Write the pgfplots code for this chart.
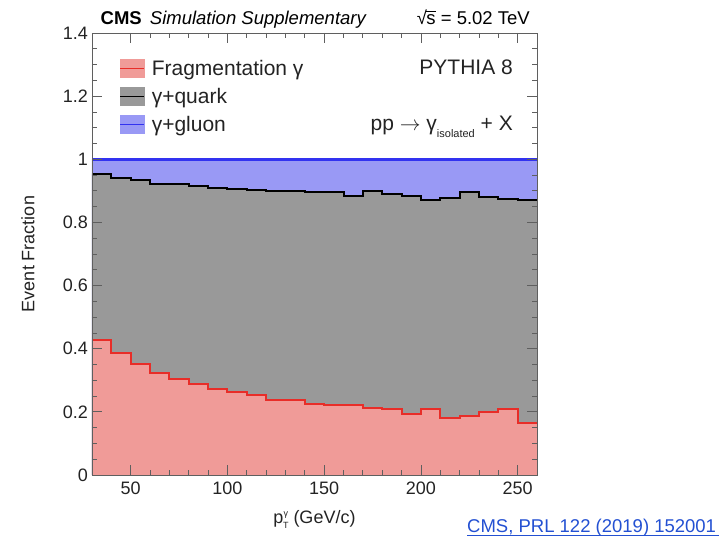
\documentclass[border=0pt]{standalone}
\usepackage{fontspec}
\setmainfont{Liberation Sans}
\usepackage{pgfplots}
\usepackage{pgfplotstable}
\pgfplotsset{compat=1.18}
\definecolor{redfill}{RGB}{240,155,152}
\definecolor{redline}{RGB}{232,45,40}
\definecolor{grayfill}{RGB}{153,153,153}
\definecolor{bluefill}{RGB}{153,153,245}
\definecolor{blueline}{RGB}{50,50,240}
\definecolor{framec}{RGB}{95,95,95}
\definecolor{txt}{RGB}{35,35,35}
\definecolor{linkc}{RGB}{35,80,210}

\pgfplotstableread{
x red black blue
30 0.427 0.953 1
40 0.386 0.940 1
50 0.352 0.934 1
60 0.324 0.923 1
70 0.304 0.923 1
80 0.288 0.916 1
90 0.271 0.910 1
100 0.264 0.906 1
110 0.252 0.904 1
120 0.239 0.900 1
130 0.236 0.898 1
140 0.226 0.895 1
150 0.223 0.895 1
160 0.222 0.884 1
170 0.212 0.899 1
180 0.210 0.890 1
190 0.193 0.884 1
200 0.210 0.871 1
210 0.181 0.878 1
220 0.186 0.895 1
230 0.199 0.880 1
240 0.210 0.873 1
250 0.164 0.872 1
260 0.164 0.872 1
}\hist

\begin{document}
\begin{tikzpicture}
\useasboundingbox (0pt,0pt) rectangle (728pt,537pt);
\begin{axis}[
  at={(92pt,62pt)}, anchor=south west,
  scale only axis, width=445pt, height=442pt,
  xmin=30, xmax=260, ymin=0, ymax=1.4,
  xtick={50,100,150,200,250}, minor x tick num=4,
  ytick={0,0.2,0.4,0.6,0.8,1,1.2,1.4}, minor y tick num=3,
  tick align=inside,
  major tick length=10pt, minor tick length=5pt,
  axis line style={framec, line width=0.9pt},
  every tick/.style={framec, line width=0.8pt},
  axis on top,
  /pgf/number format/assume math mode=true,
  ticklabel style={font=\fontsize{18}{20}\selectfont, text=txt},
  yticklabel style={/pgf/number format/fixed, inner sep=0pt, xshift=-4pt},
  xticklabel style={inner sep=0pt, yshift=-7pt},
  xlabel={p\raisebox{7pt}{\fontsize{9}{9}\selectfont γ}\kern-5pt\raisebox{-5pt}{\fontsize{9}{9}\selectfont T}\ (GeV/c)},
  ylabel={Event Fraction},
  xlabel style={at={(axis description cs:0.5,-0.109)}, anchor=base, font=\fontsize{18}{20}\selectfont, text=txt},
  ylabel style={at={(axis description cs:-0.144,0.5)}, anchor=center, font=\fontsize{18}{20}\selectfont, text=txt},
  legend style={at={(axis cs:44,1.317)}, anchor=north west, draw=none, fill=none,
    inner sep=0pt, row sep=9.5pt, font=\fontsize{21}{21}\selectfont, text=txt,
    nodes={inner sep=0pt}, /tikz/every odd column/.append style={column sep=7pt}},
  legend cell align=left,
]
\addplot[const plot, fill=bluefill, draw=none, forget plot] table[x=x,y=blue]{\hist} \closedcycle;
\addplot[const plot, fill=grayfill, draw=none, forget plot] table[x=x,y=black]{\hist} \closedcycle;
\addplot[const plot, fill=redfill, draw=none, forget plot] table[x=x,y=red]{\hist} \closedcycle;
\addplot[const plot, draw=blueline, line width=2.5pt, forget plot] table[x=x,y=blue]{\hist};
\addplot[const plot, draw=black, line width=2pt, forget plot] table[x=x,y=black]{\hist};
\addplot[const plot, draw=redline, line width=2pt, forget plot] table[x=x,y=red]{\hist};
\addlegendimage{legend image code/.code={\fill[redfill] (0pt,-9pt) rectangle (24pt,9pt); \draw[redline, line width=1.5pt] (0pt,0pt) -- (24pt,0pt);}}
\addlegendentry{\vphantom{Fkgqγ}Fragmentation γ}
\addlegendimage{legend image code/.code={\fill[grayfill] (0pt,-9pt) rectangle (24pt,9pt); \draw[black, line width=1.5pt] (0pt,0pt) -- (24pt,0pt);}}
\addlegendentry{\vphantom{Fkgqγ}γ+quark}
\addlegendimage{legend image code/.code={\fill[bluefill] (0pt,-9pt) rectangle (24pt,9pt); \draw[blueline, line width=1.5pt] (0pt,0pt) -- (24pt,0pt);}}
\addlegendentry{\vphantom{Fkgqγ}γ+gluon}
\end{axis}
\node[anchor=base west, inner sep=0pt, font=\fontsize{18.5}{20}\selectfont] at (100.5pt,512pt) {\textbf{CMS}\hspace{3pt} \textit{Simulation Supplementary}};
\node[anchor=base east, inner sep=0pt, font=\fontsize{18.5}{20}\selectfont] at (530pt,512pt) {√\kern-0.5pt\rlap{\rule[13.2pt]{9.5pt}{0.8pt}}s = 5.02 TeV};
\node[anchor=base east, inner sep=0pt, font=\fontsize{21}{21}\selectfont, text=txt] at (513pt,462.7pt) {PYTHIA 8};
\node[anchor=base east, inner sep=0pt, font=\fontsize{21}{21}\selectfont, text=txt] at (513pt,406.3pt) {pp $\rightarrow$ γ\raisebox{-7pt}{\fontsize{11}{11}\selectfont isolated} + X};
\node[anchor=base west, inner sep=0pt, font=\fontsize{18.5}{20}\selectfont, text=linkc] at (467pt,4pt) {CMS, PRL 122 (2019) 152001};
\draw[linkc, line width=1pt] (467pt,1.5pt) -- (719pt,1.5pt);
\end{tikzpicture}
\end{document}
